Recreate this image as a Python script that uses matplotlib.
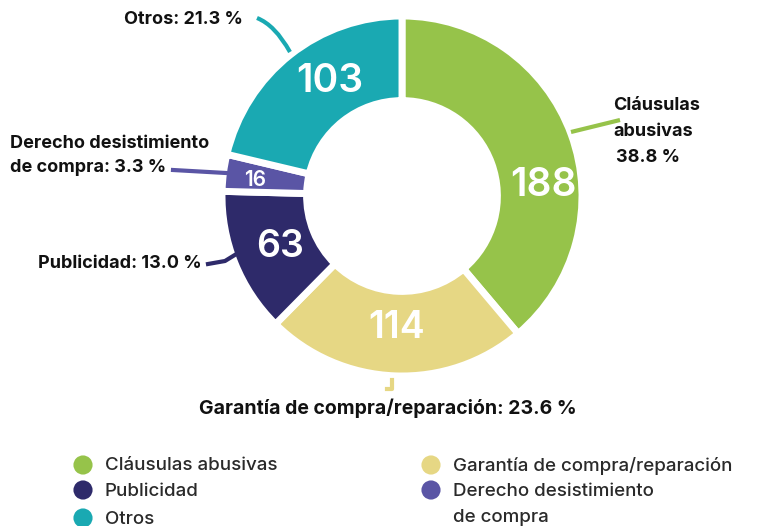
import matplotlib
matplotlib.use("Agg")
from matplotlib import pyplot as plt
from matplotlib.path import Path
from matplotlib.patches import PathPatch
import numpy as np

# data
categories = ["Cláusulas abusivas", "Garantía de compra/reparación", "Publicidad",
              "Derecho desistimiento\nde compra", "Otros"]
counts = [188, 114, 63, 16, 103]
percents = [38.8, 23.6, 13.0, 3.3, 21.3]
colors = ["#96C34A", "#E6D784", "#2E2A6A", "#5A55A5", "#1AA9B2"]

plt.rcParams['font.family'] = ['Inter', 'DejaVu Sans']

W, H = 760, 526
fig = plt.figure(figsize=(7.6, 5.26), dpi=100)
ax = fig.add_axes([0, 0, 1, 1])

def Y(y):
  # pixel row (from top) -> axis y
  return H - y

cx, cy, R = 402, 196, 180
wedges, _ = ax.pie(counts, colors=colors, startangle=90, counterclock=False,
                   center=(cx, Y(cy)), radius=R, frame=True,
                   wedgeprops=dict(width=R * 0.47, edgecolor='white', linewidth=5))
ax.set_xlim(0, W)
ax.set_ylim(0, H)
ax.set_aspect('equal')
ax.axis('off')

# numbers inside the ring
inner_pos = [(543, 185, 28), (397, 328, 27), (280, 247, 27), (255, 180, 15), (330, 82, 28)]
for n, (x, y, fs) in zip(counts, inner_pos):
  ax.text(x, Y(y), str(n), color='white', fontsize=fs, fontweight='semibold',
          ha='center', va='center')

lab_kw = dict(fontsize=13, fontweight='bold', color='#111111')

# Cláusulas abusivas
ax.text(613, Y(105), "Cláusulas", ha='left', va='center', **lab_kw)
ax.text(613, Y(131), "abusivas", ha='left', va='center', **lab_kw)
ax.text(616, Y(158), f"{percents[0]:.1f} %", ha='left', va='center', **lab_kw)
ax.plot([571, 620], [Y(132), Y(120)], color=colors[0], lw=3, solid_capstyle='butt')

# Garantía
ax.text(388, Y(408), f"Garantía de compra/reparación: {percents[1]:.1f} %",
        ha='center', va='center', fontsize=14, fontweight='bold', color='#111111')
ax.plot([387, 392, 392], [Y(389), Y(389), Y(380)], color=colors[1], lw=3)

# Publicidad
ax.text(202, Y(264), f"Publicidad: {percents[2]:.1f} %", ha='right', va='center', **lab_kw)
ax.plot([208, 225, 238], [Y(264), Y(261), Y(253)], color=colors[2], lw=3)

# Derecho desistimiento
ax.text(10, Y(143), "Derecho desistimiento", ha='left', va='center', **lab_kw)
ax.text(10, Y(167), f"de compra: {percents[3]:.1f} %", ha='left', va='center', **lab_kw)
ax.plot([173, 226], [Y(170), Y(173)], color=colors[3], lw=3)

# Otros
ax.text(243, Y(20), f"Otros: {percents[4]:.1f} %", ha='right', va='center', **lab_kw)
curve = Path([(257, Y(18)), (275, Y(25)), (290, Y(52))],
             [Path.MOVETO, Path.CURVE3, Path.CURVE3])
ax.add_patch(PathPatch(curve, fill=False, edgecolor=colors[4], lw=3))

# legend
leg_items = [(0, 83, 465), (2, 83, 490), (4, 83, 518),
             (1, 431, 465), (3, 431, 490)]
for i, x, y in leg_items:
  ax.scatter([x], [Y(y)], s=190, color=colors[i], edgecolors='none', zorder=3)
  name = categories[i]
  ax.text(x + 22, Y(y + 1), name.split("\n")[0], ha='left', va='center',
          fontsize=13.5, fontweight='medium', color='#2a2a2a')
  if "\n" in name:
    ax.text(x + 22, Y(y + 28), name.split("\n")[1], ha='left', va='center',
            fontsize=13.5, fontweight='medium', color='#2a2a2a')

fig.savefig("out.png", dpi=100)
